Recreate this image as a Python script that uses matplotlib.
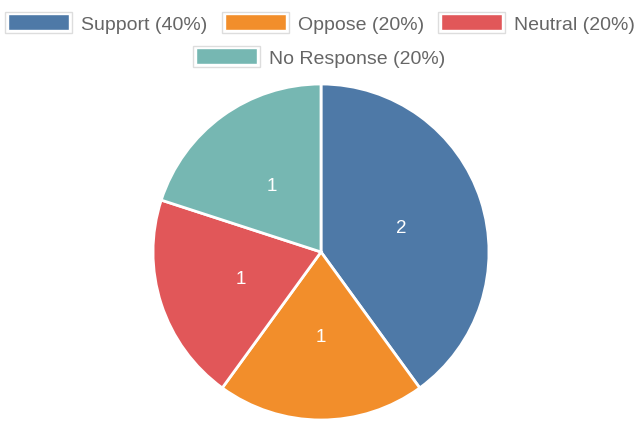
import matplotlib.pyplot as plt
from matplotlib.patches import Rectangle

labels = ["Support", "Oppose", "Neutral", "No Response"]
values = [2, 1, 1, 1]
colors = ["#4e79a7", "#f28e2b", "#e15759", "#76b7b2"]

W, H = 635, 422
plt.rcParams['font.family'] = ['Liberation Sans', 'DejaVu Sans']
fig = plt.figure(figsize=(W / 100, H / 100), dpi=100)

# pie axes, placed in pixels
cx, cy, r = 321, 252, 168
ax = fig.add_axes([(cx - r) / W, (H - cy - r) / H, 2 * r / W, 2 * r / H])
wedges, texts = ax.pie(values, colors=colors, startangle=90, counterclock=False,
                       labels=[str(v) for v in values], labeldistance=0.5,
                       wedgeprops=dict(edgecolor="white", linewidth=2),
                       textprops=dict(color="white", fontsize=13.5))
for t in texts:
    t.set_ha("center")
    t.set_va("center_baseline")
ax.set_xlim(-1.0, 1.0)
ax.set_ylim(-1.0, 1.0)
ax.set_aspect("equal")

# legend drawn by hand (two centered rows)
total = sum(values)
leg_pos = [(5, 12), (222, 12), (438, 12), (193, 46)]
for (x, y), lab, v, c in zip(leg_pos, labels, values, colors):
    fig.patches.append(Rectangle((x / W, 1 - (y + 21) / H), 67 / W, 21 / H,
                                 transform=fig.transFigure, facecolor="white",
                                 edgecolor="#dddddd", linewidth=1))
    fig.patches.append(Rectangle(((x + 3) / W, 1 - (y + 18) / H), 61 / W, 16 / H,
                                 transform=fig.transFigure, facecolor=c,
                                 edgecolor="white", linewidth=1))
    fig.text((x + 76) / W, 1 - (y + 12) / H, f"{lab} ({v / total * 100:.0f}%)",
             color="#666666", fontsize=14, va="center_baseline", ha="left")

fig.savefig("out.png", dpi=100)
